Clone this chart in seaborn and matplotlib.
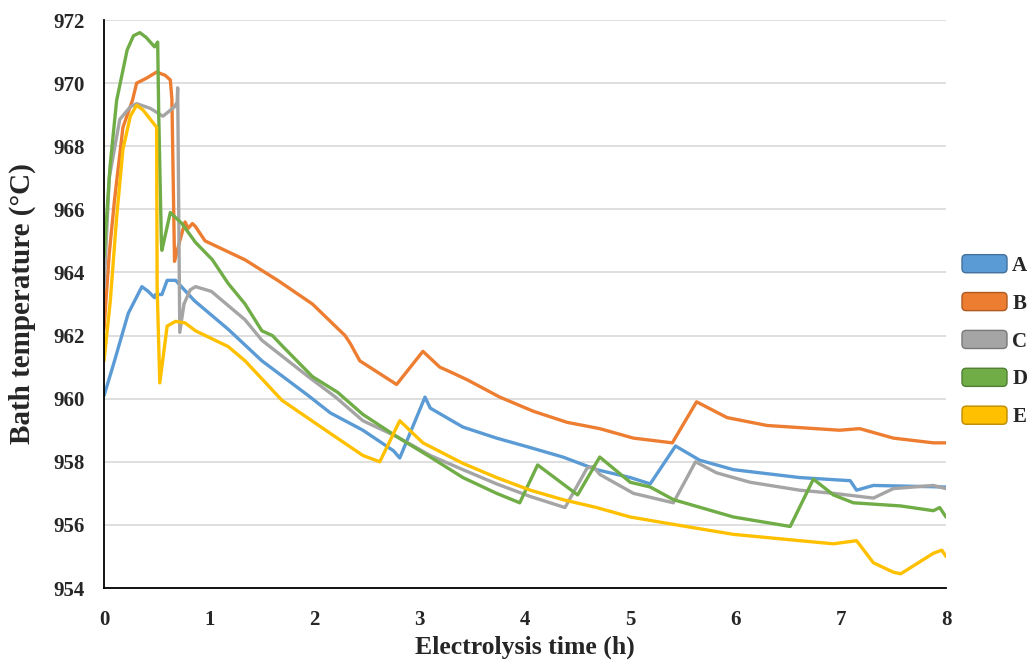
import matplotlib
matplotlib.use("Agg")
import matplotlib.pyplot as plt
from matplotlib.patches import Patch, FancyBboxPatch
from matplotlib.legend_handler import HandlerPatch
import seaborn as sns
import pandas as pd

# --- DATA ---
series_names = ["A", "B", "C", "D", "E"]
colors = ["#5B9BD5", "#ED7D31", "#A5A5A5", "#70AD47", "#FFC000"]
edge_colors = ["#41719C", "#AE5A21", "#787878", "#507E32", "#BC8C00"]

a_x = [0, 0.01, 0.1, 0.23, 0.36, 0.42, 0.48, 0.49, 0.55, 0.6, 0.68, 0.86, 1.18, 1.5, 1.94,
       2.15, 2.46, 2.75, 2.81, 3.05, 3.1, 3.41, 3.73, 4.05, 4.36, 4.68, 5.0, 5.19, 5.43,
       5.66, 5.98, 6.61, 7.09, 7.15, 7.31, 8.0]
a_y = [960.1, 960.2, 961.2, 962.7, 963.55, 963.4, 963.2, 963.3, 963.3, 963.75, 963.75, 963.1,
       962.2, 961.2, 960.1, 959.55, 959.0, 958.35, 958.12, 960.05, 959.7, 959.1, 958.75,
       958.45, 958.15, 957.75, 957.5, 957.3, 958.5, 958.05, 957.75, 957.5, 957.4, 957.1,
       957.25, 957.2]

b_x = [0, 0.05, 0.1, 0.18, 0.27, 0.31, 0.4, 0.5, 0.58, 0.63, 0.645, 0.67, 0.72, 0.77, 0.8,
       0.84, 0.87, 0.96, 1.34, 1.65, 1.98, 2.29, 2.34, 2.43, 2.78, 3.03, 3.19, 3.29, 3.45,
       3.76, 4.08, 4.4, 4.71, 5.03, 5.4, 5.63, 5.92, 6.3, 6.99, 7.18, 7.5, 7.88, 8.0]
b_y = [962.2, 964.6, 966.3, 968.6, 969.45, 970.0, 970.15, 970.35, 970.25, 970.1, 969.5, 964.35,
       965.0, 965.6, 965.4, 965.55, 965.45, 965.0, 964.4, 963.75, 963.0, 962.0, 961.75, 961.2,
       960.45, 961.5, 961.0, 960.85, 960.6, 960.05, 959.6, 959.25, 959.05, 958.75, 958.6,
       959.9, 959.4, 959.15, 959.0, 959.05, 958.75, 958.6, 958.6]

c_x = [0, 0.05, 0.15, 0.25, 0.31, 0.44, 0.56, 0.67, 0.695, 0.7, 0.715, 0.72, 0.76, 0.82, 0.87,
       1.02, 1.34, 1.5, 1.94, 2.2, 2.46, 2.78, 3.1, 3.41, 3.73, 4.05, 4.38, 4.59, 4.65, 4.71,
       5.03, 5.41, 5.62, 5.82, 6.14, 6.61, 6.93, 7.31, 7.5, 7.88, 8.0]
c_y = [963.5, 967.0, 968.85, 969.25, 969.35, 969.2, 968.95, 969.25, 969.4, 969.85, 964.0, 962.1,
       963.0, 963.45, 963.55, 963.4, 962.5, 961.85, 960.7, 960.05, 959.3, 958.8, 958.2, 957.75,
       957.3, 956.9, 956.55, 957.8, 957.85, 957.6, 957.0, 956.7, 958.0, 957.65, 957.35, 957.1,
       957.0, 956.85, 957.15, 957.25, 957.15]

d_x = [0, 0.057, 0.12, 0.22, 0.28, 0.34, 0.4, 0.48, 0.51, 0.52, 0.545, 0.55, 0.63, 0.74, 0.87,
       1.03, 1.18, 1.34, 1.5, 1.6, 1.7, 1.98, 2.22, 2.46, 2.78, 3.1, 3.41, 3.73, 3.95, 4.12,
       4.36, 4.5, 4.71, 5.0, 5.19, 5.41, 5.98, 6.52, 6.74, 6.93, 7.12, 7.57, 7.88, 7.94, 8.0]
d_y = [964.5, 967.35, 969.45, 971.05, 971.5, 971.6, 971.45, 971.15, 971.3, 969.0, 965.0, 964.7,
       965.9, 965.55, 964.95, 964.4, 963.65, 963.0, 962.15, 962.0, 961.65, 960.7, 960.2, 959.5,
       958.8, 958.15, 957.5, 957.0, 956.7, 957.9, 957.3, 956.95, 958.15, 957.35, 957.2, 956.8,
       956.25, 955.95, 957.45, 956.95, 956.7, 956.6, 956.45, 956.55, 956.25]

e_x = [0, 0.06, 0.12, 0.18, 0.25, 0.31, 0.37, 0.5, 0.505, 0.53, 0.6, 0.68, 0.77, 0.87, 1.18,
       1.34, 1.69, 2.15, 2.46, 2.62, 2.81, 3.03, 3.41, 3.73, 4.05, 4.36, 4.68, 5.0, 5.35, 5.98,
       6.61, 6.93, 7.15, 7.31, 7.5, 7.57, 7.88, 7.96, 8.0]
e_y = [961.2, 963.1, 965.75, 967.9, 968.95, 969.3, 969.15, 968.6, 963.5, 960.5, 962.3, 962.45,
       962.4, 962.15, 961.65, 961.2, 959.95, 958.9, 958.2, 958.0, 959.3, 958.6, 957.95, 957.5,
       957.1, 956.8, 956.55, 956.25, 956.05, 955.7, 955.5, 955.4, 955.5, 954.8, 954.5, 954.45,
       955.1, 955.2, 955.0]

xs = [a_x, b_x, c_x, d_x, e_x]
ys = [a_y, b_y, c_y, d_y, e_y]

frames = []
for name, x, y in zip(series_names, xs, ys):
    frames.append(pd.DataFrame({"time": x, "temp": y, "series": name}))
df = pd.concat(frames, ignore_index=True)


# rounded legend boxes like the Excel original
class RoundBoxHandler(HandlerPatch):
    def create_artists(self, legend, orig_handle, xdescent, ydescent, width, height, fontsize, trans):
        box = FancyBboxPatch((-xdescent, -ydescent), width, height,
                             boxstyle="round,pad=0,rounding_size=3",
                             facecolor=orig_handle.get_facecolor(),
                             edgecolor=orig_handle.get_edgecolor(),
                             linewidth=1.0, transform=trans)
        return [box]


# --- PLOT ---
sns.set_style("white")
plt.rcParams["font.family"] = ["Liberation Serif", "DejaVu Serif"]
plt.rcParams["font.weight"] = "bold"

fig = plt.figure(figsize=(10.32, 6.6), dpi=100)
ax = fig.add_axes([104 / 1032, 1 - 588 / 660, (946 - 104) / 1032, (588 - 20) / 660])

sns.lineplot(data=df, x="time", y="temp", hue="series", palette=colors,
             sort=False, estimator=None, linewidth=2.4, legend=False, ax=ax)

ax.set_xlim(0, 8)
ax.set_ylim(954, 972)
ax.set_yticks(range(954, 973, 2))
ax.set_xticks(range(0, 9))
ax.yaxis.grid(True, color="#D9D9D9", linewidth=1.2)
ax.set_axisbelow(True)
for side in ["top", "right"]:
    ax.spines[side].set_visible(False)
for side in ["left", "bottom"]:
    ax.spines[side].set_color("black")
    ax.spines[side].set_linewidth(1.3)

ax.tick_params(axis="both", direction="in", length=5, width=1.3, color="black",
               labelsize=15, pad=14)
ax.tick_params(axis="x", pad=16)
for lab in ax.get_xticklabels() + ax.get_yticklabels():
    lab.set_fontweight("bold")

ax.set_xlabel("Electrolysis time (h)", fontsize=18.5, fontweight="bold", labelpad=4)
ax.set_ylabel("Bath temperature (°C)", fontsize=21, fontweight="bold", labelpad=12)

handles = [Patch(facecolor=c, edgecolor=e) for c, e in zip(colors, edge_colors)]
fig.legend(handles, series_names, loc="center left", bbox_to_anchor=(962 / 1032, 1 - 341 / 660),
           bbox_transform=fig.transFigure, frameon=False, borderpad=0, borderaxespad=0,
           handlelength=2.16, handleheight=0.96, handletextpad=0.25, labelspacing=0.8,
           handler_map={Patch: RoundBoxHandler()},
           prop={"size": 15, "weight": "bold"})

fig.savefig("out.png", dpi=100)
